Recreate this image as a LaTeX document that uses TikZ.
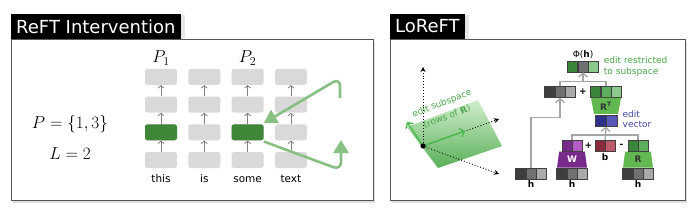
\documentclass[tikz,border=0pt]{standalone}
\usepackage{fontspec}
\setsansfont{DejaVu Sans}
\usetikzlibrary{arrows.meta, positioning, shapes.geometric, shadows, calc}
\definecolor{frame}{RGB}{85,85,85}
\definecolor{cellgray}{RGB}{217,217,217}
\definecolor{hotgreen}{RGB}{64,134,56}
\definecolor{loopgreen}{RGB}{136,192,132}
\definecolor{planetop}{RGB}{210,238,205}
\definecolor{planebot}{RGB}{88,176,88}
\definecolor{axisgreen}{RGB}{76,186,76}
\definecolor{textgreen}{RGB}{74,166,74}
\definecolor{textblue}{RGB}{72,72,165}
\definecolor{flowgray}{RGB}{165,165,165}
\definecolor{gA}{RGB}{62,62,62}
\definecolor{gB}{RGB}{112,112,112}
\definecolor{gC}{RGB}{170,170,170}
\definecolor{grA}{RGB}{58,134,58}
\definecolor{grB}{RGB}{94,172,94}
\definecolor{grC}{RGB}{140,200,140}
\definecolor{trapgreen}{RGB}{98,184,80}
\definecolor{blA}{RGB}{46,49,140}
\definecolor{blB}{RGB}{88,88,186}
\definecolor{puA}{RGB}{120,42,138}
\definecolor{puB}{RGB}{178,92,196}
\definecolor{rdA}{RGB}{138,42,58}
\definecolor{rdB}{RGB}{192,90,106}

\begin{document}
\begin{tikzpicture}[x=1pt, y=-1pt, font=\sffamily,
    panel/.style={draw=frame, line width=0.8pt, fill=white, inner sep=0pt, anchor=north west,
      drop shadow={opacity=0.25, shadow xshift=2pt, shadow yshift=-3pt}},
    tab/.style={fill=black, text=white, anchor=south west, minimum height=25pt, inner xsep=5pt,
      font=\sffamily\fontsize{18}{18}\selectfont,
      drop shadow={opacity=0.2, shadow xshift=4pt, shadow yshift=-1pt}},
    cell/.style={fill=cellgray, rounded corners=2.5pt, minimum width=32pt, minimum height=16pt, inner sep=0pt},
    hot/.style={cell, fill=hotgreen},
    tokarrow/.style={draw=gray, line width=0.8pt, -{Straight Barb[length=2.5pt, width=6pt]}},
    word/.style={font=\sffamily\fontsize{10.5}{12}\selectfont, text height=7.8pt, text depth=2pt, inner sep=0pt},
    bigmath/.style={font=\fontsize{18}{18}\selectfont},
    feedback/.style={draw=loopgreen, line width=2.6pt, rounded corners=8pt,
      -{Triangle[length=13pt, width=15pt, fill=loopgreen]}},
    axisline/.style={dotted, line width=0.9pt, -{Stealth[length=5pt, width=5pt]}},
    basis/.style={draw=axisgreen, line width=1.4pt, -{Straight Barb[length=4pt, width=9pt]}},
    sublabel/.style={text=textgreen, font=\sffamily\fontsize{9}{11}\selectfont, inner sep=0pt},
    vc/.style={draw=black!75, line width=0.5pt, minimum width=10pt, minimum height=11pt, inner sep=0pt},
    trap/.style={trapezium, trapezium stretches body, minimum width=30pt, minimum height=16pt,
      inner sep=0pt, font=\sffamily\bfseries\fontsize{9}{9}\selectfont},
    lab/.style={font=\sffamily\fontsize{9}{10}\selectfont, inner sep=1pt},
    boldlab/.style={lab, font=\sffamily\bfseries\fontsize{9}{10}\selectfont},
    flow/.style={draw=flowgray, line width=1.3pt, -{Straight Barb[length=4pt, width=9pt]}},
    branch/.style={draw=flowgray, line width=1.3pt},
  ]
  \useasboundingbox (0,0) rectangle (692,212);

  % ---- left panel ----
  \node[panel, minimum width=362pt, minimum height=161pt] (lpanel) at (11,39) {};
  \node[tab] (ltab) at (lpanel.north west) {ReFT Intervention};

  \node[bigmath, anchor=base] (pset) at (70,128) {$P=\{1,3\}$};
  \node[bigmath, anchor=base] (lnum) at (70,159) {$L=2$};

  \foreach \c in {1,...,4}
    \foreach \r in {1,...,4}
      \node[cell] (n\c\r) at ({117.7+43.3*\c}, {187.7-27.7*\r}) {};
  \node[hot] (h1) at (n12) {};
  \node[hot] (h2) at (n32) {};
  \foreach \c in {1,...,4}
    \foreach \r/\s in {1/2, 2/3, 3/4}
      \draw[tokarrow] (n\c\r) -- (n\c\s);

  \node[bigmath, above=0pt of n14] (p1lab) {$P_1$};
  \node[bigmath, above=0pt of n34] (p2lab) {$P_2$};
  \foreach \c/\w in {1/this, 2/is, 3/some, 4/text}
    \node[word, below=6pt of n\c1] (w\c) {\w};

  \coordinate (fbin) at (340,98);
  \coordinate (fbout) at (341,140);
  \draw[feedback] (fbin) -- (340,78) -- ([yshift=1pt]h2.north east);
  \draw[feedback] ([yshift=-1pt]h2.south east) -- (341,170) -- (fbout);

  % ---- right panel ----
  \node[panel, minimum width=295pt, minimum height=161pt] (rpanel) at (390,39) {};
  \node[tab] (rtab) at (rpanel.north west) {LoReFT};

  \coordinate (o) at (423,146);
  \coordinate (ax1) at (423,67);
  \coordinate (ax2) at (499,119);
  \coordinate (ax3) at (499,174);
  \coordinate (e1end) at (407,122);
  \coordinate (e2end) at (465,131);
  \shade[top color=planetop, bottom color=planebot] (478,100) -- (502,146) -- (438,168) -- (407,127) -- cycle;
  \draw[axisline] (o) -- (ax1);
  \draw[axisline] (o) -- (ax2);
  \draw[axisline] (o) -- (ax3);
  \draw[basis] (o) -- (e1end);
  \draw[basis] (o) -- (e2end);
  \fill (o) circle (2.6pt);
  \node[sublabel, font=\sffamily\fontsize{9}{14.5}\selectfont, align=center, rotate=21] (sub) at (444.5,110) {edit subspace\\(rows of \textbf{R})};

  % bottom h vectors
  \foreach \v/\x in {hL/531, hW/572, hR/638} {
    \node[vc, fill=gB] (\v2) at (\x,173.5) {};
    \node[vc, fill=gA, left=0pt of \v2] (\v1) {};
    \node[vc, fill=gC, right=0pt of \v2] (\v3) {};
    \node[boldlab, below=0pt of \v2] (\v-lab) {h};
  }

  % W, b, R
  \node[trap, fill=puA, text=white, trapezium angle=72, above=0pt of hW2] (wmap) {W};
  \node[trap, fill=trapgreen, text=black!80, trapezium angle=72, above=0pt of hR2] (rmap) {R};
  \node[vc, fill=puA, anchor=south east] (wv1) at (wmap.north) {};
  \node[vc, fill=puB, right=0pt of wv1] (wv2) {};
  \node[vc, fill=grA, anchor=south east] (rv1) at (rmap.north) {};
  \node[vc, fill=grB, right=0pt of rv1] (rv2) {};
  \node[vc, fill=rdA, anchor=south east] (bv1) at ($(wv1.south east)!0.5!(rv1.south east)$) {};
  \node[vc, fill=rdB, right=0pt of bv1] (bv2) {};
  \node[boldlab, below=1pt of bv1.south east] (blab) {b};
  \node[boldlab] (plus2) at ($(wv2.east)!0.5!(bv1.west)$) {+};
  \node[boldlab] (minus) at ($(bv2.east)!0.5!(rv1.west)$) {-};

  % R^T and edit vector
  \node[vc, fill=grB] (t2) at (606,92) {};
  \node[vc, fill=grA, left=0pt of t2] (t1) {};
  \node[vc, fill=grC, right=0pt of t2] (t3) {};
  \node[trap, fill=trapgreen, text=black!80, shape border rotate=180, trapezium angle=70, below=0pt of t2] (rtmap) {R\textsuperscript{T}};
  \node[vc, fill=blA, minimum width=11pt, anchor=north east] (ev1) at ([yshift=-1pt]rtmap.south) {};
  \node[vc, fill=blB, minimum width=11pt, right=0pt of ev1] (ev2) {};
  \node[lab, text=textblue, align=left, anchor=west, inner sep=0pt] (evlab) at ($(ev2.east)+(5,-2)$) {edit\\vector};

  % sum and output
  \node[vc, fill=gB] (s2) at (560,92) {};
  \node[vc, fill=gA, left=0pt of s2] (s1) {};
  \node[vc, fill=gC, right=0pt of s2] (s3) {};
  \node[boldlab] (plus1) at ($(s3.east)!0.5!(t1.west)$) {+};
  \node[vc, fill=gB] (phi2) at (583,66.5) {};
  \node[vc, fill=grA, left=0pt of phi2] (phi1) {};
  \node[vc, fill=grC, right=0pt of phi2] (phi3) {};
  \node[lab, above=1pt of phi2] (philab) {Φ(\textbf{h})};
  \node[sublabel, align=left, right=5pt of phi3] (restr) {edit restricted\\to subspace};

  % connectors
  \draw[flow] (hL2.north) |- ([yshift=-20pt]s2.south) -- (s2.south);
  \draw[branch] (s2.north) |- ([yshift=5pt]t2.north) -- (t2.north);
  \draw[flow] ($(s2.north)!0.5!(t2.north)+(0,-5)$) -- (phi2.south);
  \draw[branch] (wv1.north east) |- ([yshift=5pt]rv1.north east) -- (rv1.north east);
  \draw[flow] (bv1.north east) -- (ev1.south east);
\end{tikzpicture}
\end{document}
